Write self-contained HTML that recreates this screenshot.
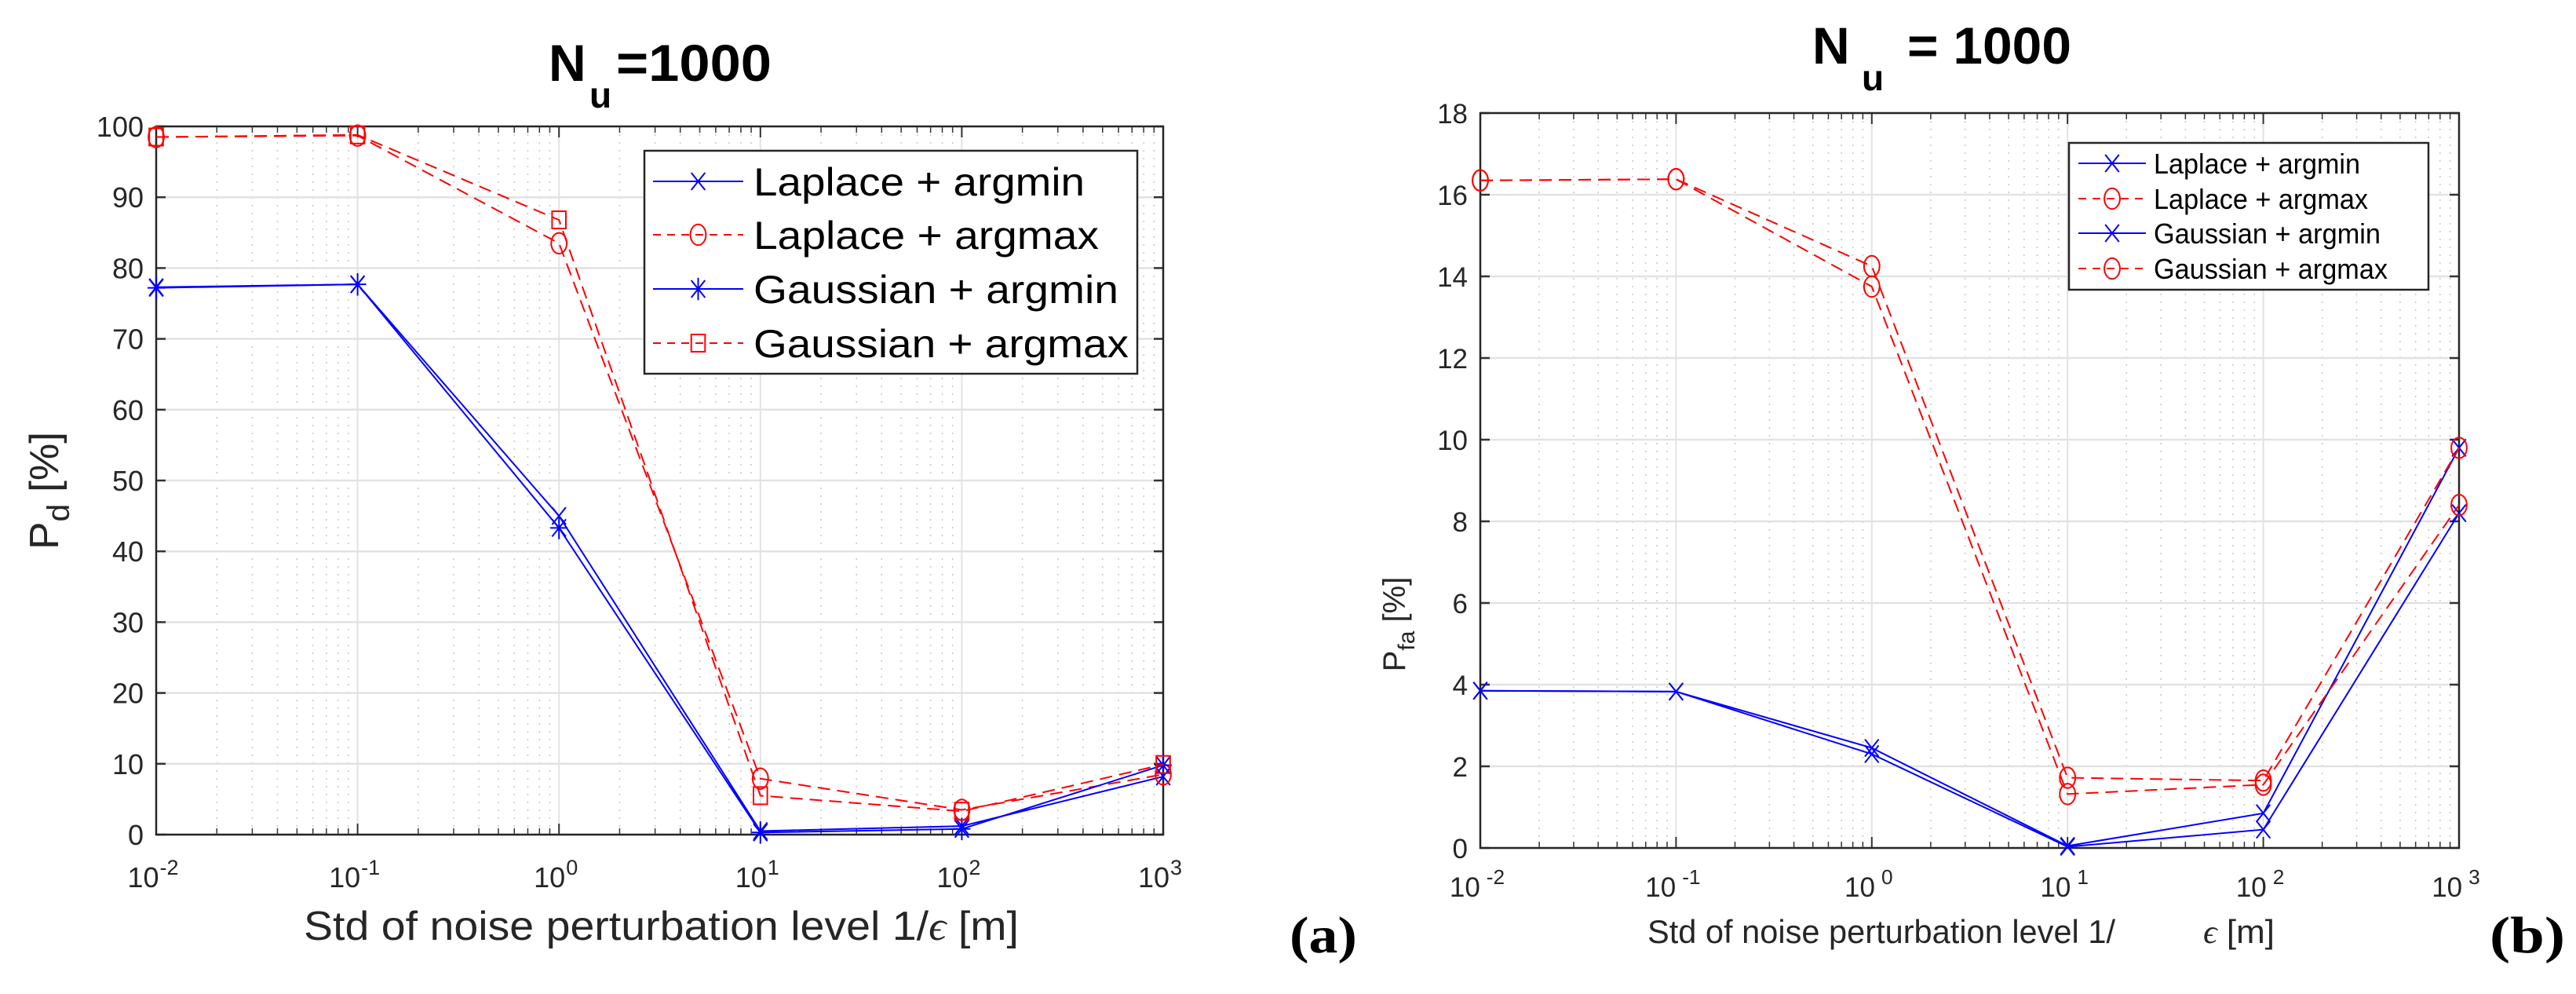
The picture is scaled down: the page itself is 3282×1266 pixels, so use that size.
<!DOCTYPE html>
<html><head><meta charset="utf-8"><style>
html,body{margin:0;padding:0;background:#fff;overflow:hidden;}
svg{display:block;font-family:"Liberation Sans",sans-serif;}
</style></head><body>
<svg id="fig" width="3282" height="1266" viewBox="0 0 3282 1266" xmlns="http://www.w3.org/2000/svg"></svg>
<script>
const xExp = [-2, -1, 0, 1, 2, 3];
const xTickLabels = ["-2","-1","0","1","2","3"];
// Panel (a) Pd
const aLapMin = [77.3, 77.7, 45.0, 0.5, 1.2, 8.2];
const aLapMax = [98.5, 98.7, 83.5, 7.9, 3.5, 8.5];
const aGauMin = [77.2, 77.7, 43.3, 0.3, 0.8, 9.8];
const aGauMax = [98.5, 98.8, 86.8, 5.5, 3.3, 9.9];
const aYTicks = [0,10,20,30,40,50,60,70,80,90,100];
// Panel (b) Pfa
const bLapMin = [3.85, 3.83, 2.45, 0.05, 0.85, 9.8];
const bLapMax = [16.35, 16.38, 14.25, 1.72, 1.65, 9.8];
const bGauMin = [3.85, 3.83, 2.30, 0.03, 0.45, 8.2];
const bGauMax = [16.35, 16.38, 13.75, 1.32, 1.55, 8.4];
const bYTicks = [0,2,4,6,8,10,12,14,16,18];
const legendLabels = ["Laplace + argmin","Laplace + argmax","Gaussian + argmin","Gaussian + argmax"];

const NS="http://www.w3.org/2000/svg";
const svg=document.getElementById('fig');
function mk(tag,attrs,parent,text){const e=document.createElementNS(NS,tag);for(const k in attrs)e.setAttribute(k,attrs[k]);if(text!==undefined)e.textContent=text;(parent||svg).appendChild(e);return e;}

function marker(g,type,x,y,s,color){
  if(type==='x'){mk('path',{d:`M${x-s*0.8} ${y-s}L${x+s*0.8} ${y+s}M${x-s*0.8} ${y+s}L${x+s*0.8} ${y-s}`,stroke:color,'stroke-width':2,fill:'none'},g);}
  else if(type==='*'){mk('path',{d:`M${x-s*0.8} ${y-s}L${x+s*0.8} ${y+s}M${x-s*0.8} ${y+s}L${x+s*0.8} ${y-s}M${x} ${y-s*1.3}L${x} ${y+s*1.3}M${x-s} ${y}L${x+s} ${y}`,stroke:color,'stroke-width':2,fill:'none'},g);}
  else if(type==='o'){mk('ellipse',{cx:x,cy:y,rx:s*0.9,ry:s*1.2,stroke:color,'stroke-width':2,fill:'none'},g);}
  else if(type==='s'){mk('rect',{x:x-s*0.8,y:y-s,width:1.6*s,height:2*s,stroke:color,'stroke-width':2,fill:'none'},g);}
}

function panel(P){
  const g=mk('g',{});
  
  
  const X=e=>P.x0+(e-xExp[0])/(xExp[xExp.length-1]-xExp[0])*(P.x1-P.x0);
  const Y=v=>P.y1-(v-P.ymin)/(P.ymax-P.ymin)*(P.y1-P.y0);
  for(let e=xExp[0];e<xExp[xExp.length-1];e++){for(let m=2;m<=9;m++){const xx=X(e+Math.log10(m));
    mk('line',{x1:xx,x2:xx,y1:P.y0,y2:P.y1,stroke:'#c8c8c8','stroke-width':1.5,'stroke-dasharray':'2,8'},g);
    mk('line',{x1:xx,x2:xx,y1:P.y1,y2:P.y1-8,stroke:'#333','stroke-width':1.5},g);
    mk('line',{x1:xx,x2:xx,y1:P.y0,y2:P.y0+8,stroke:'#333','stroke-width':1.5},g);}}
  xExp.forEach(e=>{const xx=X(e);mk('line',{x1:xx,x2:xx,y1:P.y0,y2:P.y1,stroke:'#e2e2e2','stroke-width':2},g);});
  P.yTicks.forEach(v=>{const yy=Y(v);mk('line',{x1:P.x0,x2:P.x1,y1:yy,y2:yy,stroke:'#e2e2e2','stroke-width':2.5},g);
    mk('line',{x1:P.x0,x2:P.x0+12,y1:yy,y2:yy,stroke:'#333','stroke-width':2.5},g);
    mk('line',{x1:P.x1,x2:P.x1-12,y1:yy,y2:yy,stroke:'#333','stroke-width':2.5},g);
    const t=mk('text',{x:P.x0-16,y:yy+13,'text-anchor':'end','font-size':P.tfs,fill:'#262626'},g,String(v));
    });
  xExp.forEach((e,i)=>{const xx=X(e);
    mk('line',{x1:xx,x2:xx,y1:P.y1,y2:P.y1-14,stroke:'#333','stroke-width':2},g);
    mk('line',{x1:xx,x2:xx,y1:P.y0,y2:P.y0+14,stroke:'#333','stroke-width':2},g);
    const t=mk('text',{x:xx-4,y:P.tickY,'text-anchor':'middle','font-size':P.tfs,fill:'#262626'},g);
    
    mk('tspan',{},t,'10');mk('tspan',{dy:-16,'font-size':P.tfs*0.75,dx:P.supdx},t,xTickLabels[i]);});
  mk('rect',{x:P.x0,y:P.y0,width:P.x1-P.x0,height:P.y1-P.y0,fill:'none',stroke:'#262626','stroke-width':2.5},g);
  P.series.forEach(s=>{const sg=mk('g',{},g);
    
    const pts=s.data.map((v,i)=>X(xExp[i])+','+Y(v)).join(' ');
    mk('polyline',{points:pts,fill:'none',stroke:s.color,'stroke-width':2,'stroke-dasharray':s.dash?'16,9':'none'},sg);
    s.data.forEach((v,i)=>marker(sg,s.mk,X(xExp[i]),Y(v),11,s.color));});
  const L=P.leg;const lg=mk('g',{},g);
  
  mk('rect',{x:L.x,y:L.y,width:L.w,height:L.h,fill:'#fff',stroke:'#262626','stroke-width':2.5},lg);
  P.series.forEach((s,i)=>{const ry=L.rows[i];const eg=mk('g',{},lg);
    
    mk('line',{x1:L.lx0,x2:L.lx1,y1:ry,y2:ry,stroke:s.color,'stroke-width':2,'stroke-dasharray':s.dash?'10,8':'none'},eg);
    marker(eg,s.mk,(L.lx0+L.lx1)/2,ry,11,s.color);
    mk('text',{x:L.tx,y:ry+L.fs*0.36,'font-size':L.fs,fill:'#000',textLength:L.tw[i],lengthAdjust:'spacingAndGlyphs'},eg,legendLabels[i]);});
}

panel({name:'panel-a',x0:199,x1:1482,y0:161,y1:1063,ymin:0,ymax:100,yTicks:aYTicks,tfs:36,supdx:1,tickY:1130,
  series:[{name:'laplace-argmin',data:aLapMin,color:'#0000ff',mk:'x',dash:false},
          {name:'laplace-argmax',data:aLapMax,color:'#ff0000',mk:'o',dash:true},
          {name:'gaussian-argmin',data:aGauMin,color:'#0000ff',mk:'*',dash:false},
          {name:'gaussian-argmax',data:aGauMax,color:'#ff0000',mk:'s',dash:true}],
  leg:{x:821,y:192,w:628,h:284,rows:[231,299,368,437],lx0:832,lx1:947,tx:960,fs:50,tw:[422,440,465,478]}});
panel({name:'panel-b',x0:1886,x1:3133,y0:144,y1:1080,ymin:0,ymax:18,yTicks:bYTicks,tfs:35,supdx:8,tickY:1142,
  series:[{name:'laplace-argmin',data:bLapMin,color:'#0000ff',mk:'x',dash:false},
          {name:'laplace-argmax',data:bLapMax,color:'#ff0000',mk:'o',dash:true},
          {name:'gaussian-argmin',data:bGauMin,color:'#0000ff',mk:'x',dash:false},
          {name:'gaussian-argmax',data:bGauMax,color:'#ff0000',mk:'o',dash:true}],
  leg:{x:2636,y:182,w:458,h:187,rows:[208,253,297,342],lx0:2648,lx1:2734,tx:2744,fs:36,tw:[263,273,289,298]}});

function txt(name,attrs,content){const t=mk('text',attrs,svg);t.innerHTML=content;return t;}
txt('title-a-n',{x:699,y:103,'font-size':66,'font-weight':'bold'},'N');
txt('title-a-sub',{x:751,y:137,'font-size':46,'font-weight':'bold'},'u');
txt('title-a-val',{x:785,y:103,'font-size':66,'font-weight':'bold',textLength:198,lengthAdjust:'spacingAndGlyphs'},'=1000');
txt('title-b-n',{x:2309,y:81,'font-size':66,'font-weight':'bold'},'N');
txt('title-b-sub',{x:2372,y:115,'font-size':46,'font-weight':'bold'},'u');
txt('title-b-val',{x:2430,y:81,'font-size':66,'font-weight':'bold',textLength:209,lengthAdjust:'spacingAndGlyphs'},'= 1000');
txt('y-axis-title-a',{x:0,y:0,transform:'translate(74,625) rotate(-90)','text-anchor':'middle','font-size':52,fill:'#262626',textLength:150,lengthAdjust:'spacingAndGlyphs'},'P<tspan dy="14" font-size="40">d</tspan><tspan dy="-14"> [%]</tspan>');
txt('y-axis-title-b',{x:0,y:0,transform:'translate(1790,795) rotate(-90)','text-anchor':'middle','font-size':40,fill:'#262626'},'P<tspan dy="12" font-size="30">fa</tspan><tspan dy="-12">   [%]</tspan>');
txt('x-axis-title-a',{x:387,y:1197,'font-size':52,fill:'#262626',textLength:911,lengthAdjust:'spacingAndGlyphs'},'Std of noise perturbation level 1/<tspan font-family="Liberation Serif" font-style="italic">ϵ</tspan> [m]');
txt('x-axis-title-b1',{x:2099,y:1201,'font-size':42,fill:'#262626',textLength:596,lengthAdjust:'spacingAndGlyphs'},'Std of noise perturbation level 1/');
txt('x-axis-title-b2',{x:2807,y:1201,'font-size':42,fill:'#262626',textLength:91,lengthAdjust:'spacingAndGlyphs'},'<tspan font-family="Liberation Serif" font-style="italic">ϵ</tspan> [m]');
txt('panel-label-a',{x:1643,y:1213,'font-size':66,'font-family':'Liberation Serif','font-weight':'bold',textLength:86,lengthAdjust:'spacingAndGlyphs'},'(a)');
txt('panel-label-b',{x:3172,y:1213,'font-size':66,'font-family':'Liberation Serif','font-weight':'bold',textLength:96,lengthAdjust:'spacingAndGlyphs'},'(b)');
</script>
</body></html>
